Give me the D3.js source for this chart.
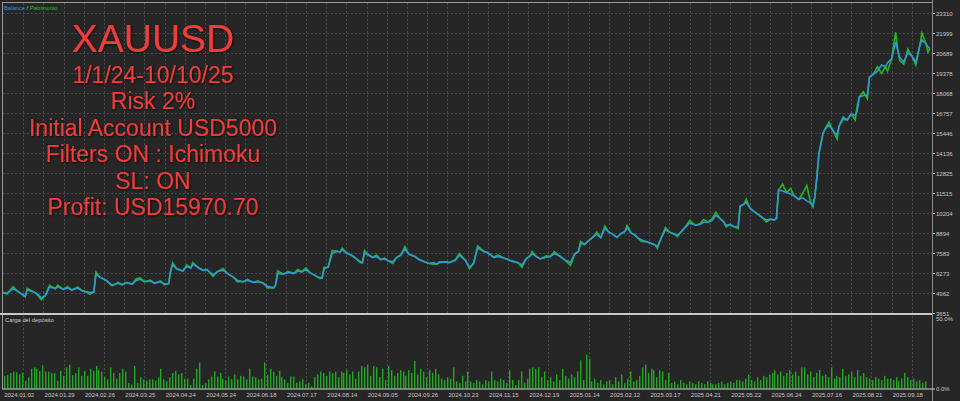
<!DOCTYPE html>
<html>
<head>
<meta charset="utf-8">
<script src="https://cdn.jsdelivr.net/npm/d3@7"></script>
<style>
body{margin:0;background:#262626;}
svg{display:block;}
</style>
</head>
<body>
<div class="container"></div>
<script>
var yTicks = [3651,4962,6273,7583,8894,10204,11515,12825,14136,15446,16757,18068,19378,20689,21999,23310];
var dateIdx = [10,30,50,70,90,110,130,150,170,190,210,230,250,270,290,310,330,350,370,390,410,430,450];
var dateLabels = ["2024.01.02","2024.01.29","2024.02.26","2024.03.25","2024.04.24","2024.05.24","2024.06.18","2024.07.17",
	"2024.08.14","2024.09.05","2024.09.26","2024.10.23","2024.11.15","2024.12.19","2025.01.14","2025.02.12",
	"2025.03.17","2025.04.21","2025.05.22","2025.06.24","2025.07.16","2025.08.21","2025.09.18"];
var loadTicks = [0,50];
var titleLines = ["XAUUSD","1/1/24-10/10/25","Risk 2%","Initial Account USD5000","Filters ON : Ichimoku","SL: ON","Profit: USD15970.70"];

// deal number, balance
var balance = [[0,5000],[2,4950],[5,5230],[7,5100],[11,4750],[12,5160],[15,5050],[17,4900],[19,4640],[21,4800],[23,5350],[26,5250],[27,5380],[30,5200],[32,5300],[34,5150],[37,5290],[39,5120],[41,5050],[43,5000],[45,5020],
	[46,6200],[48,6000],[51,5800],[54,5480],[57,5600],[59,5500],[61,5650],[64,5550],[66,5780],[68,5860],[70,5700],[73,5750],[75,5600],[78,5700],[80,5550],[82,5580],
	[83,6400],[84,6800],[86,6550],[89,6400],[91,6700],[93,6600],[94,6850],[97,6600],[99,6450],[101,6500],[104,6150],[106,6350],[109,6450],[111,6250],[114,6000],[116,5800],[119,5700],[121,5800],[124,5650],[126,5700],[129,5600],[131,5400],[134,5300],[135,5500],
	[136,6250],[139,6200],[141,6300],[144,6250],[146,6400],[148,6350],[150,6500],[152,6300],[154,6150],[157,5950],[158,5950],[159,6550],[161,6650],
	[163,7550],[165,7700],[167,7650],[168,7800],[170,7600],[173,7400],[175,7200],[177,7000],[178,6950],[179,7600],[181,7450],[183,7300],[185,7350],[187,7150],[189,7200],[191,7050],[193,7000],[195,7300],[197,7450],[199,7850],
	[201,7500],[204,7350],[206,7150],[209,7000],[211,6900],[213,6950],[215,6850],[216,6950],[219,7000],[221,6950],[224,7100],[226,7450],[229,7100],[231,6650],[233,6900],
	[235,7900],[238,7700],[240,7600],[243,7300],[245,7350],[248,7250],[250,7150],[252,7050],[255,6950],[257,6800],[259,7200],[261,7400],[262,7550],[264,7350],[266,7200],[269,7300],[271,7350],[273,7550],[276,7350],[278,7150],[281,6950],
	[283,7500],[285,7700],[286,8200],[288,8150],[290,8400],[292,8600],[294,8800],[296,8600],[298,9200],[300,8950],[302,8800],[304,8600],[306,8850],[308,9000],[309,9250],[311,8900],[313,8750],[314,8600],[316,8450],[319,8300],[321,8200],[323,8100],[324,8000],
	[326,8600],[328,9100],[330,8950],[332,8850],[334,8750],[336,9000],[338,9300],[340,9550],[343,9400],[345,9450],[347,9600],[349,9600],[351,9700],[353,10050],[355,9850],[357,9600],[358,9400],[360,9450],[362,9300],[364,9300],
	[365,10650],[367,10800],[368,10900],[370,10500],[372,10300],[374,10100],[376,9900],[378,9750],[380,9800],[382,9750],[383,9900],
	[384,11700],[386,11650],[388,11550],[390,11450],[392,11300],[394,11100],[396,11200],[398,11000],[400,10850],[401,10700],[402,11300],
	[403,12550],[404,14100],[406,15400],[407,15700],[409,15950],[411,15600],[413,15300],[414,15900],[416,16500],[418,16300],[420,16700],[422,16600],[423,16900],
	[424,17800],[426,17900],[428,17950],[429,19100],[431,19300],[433,19500],[435,19900],[437,19800],[438,20050],[440,20300],[442,21400],[443,20900],[444,20400],[446,20100],[447,20400],[448,20700],[450,20500],[452,20100],[453,20600],[454,21200],[455,21550],[457,21300],[458,21100],[459,20971]];

// deal number, equity (patrimonio)
var equity = [[0,5000],[2,4900],[5,5380],[7,5100],[11,4700],[12,5260],[15,5050],[17,4850],[19,4520],[21,4800],[23,5460],[26,5250],[27,5470],[30,5200],[32,5380],[34,5150],[37,5360],[39,5120],[41,5050],[43,4880],[45,5020],
	[46,6330],[48,6000],[51,5800],[54,5430],[57,5650],[59,5500],[61,5650],[64,5550],[66,5900],[68,5960],[70,5700],[73,5800],[75,5600],[78,5750],[80,5500],[82,5580],
	[83,6400],[84,6950],[86,6550],[89,6400],[91,6800],[93,6600],[94,6950],[97,6600],[99,6450],[101,6500],[104,6050],[106,6350],[109,6560],[111,6250],[114,6000],[116,5700],[119,5700],[121,5850],[124,5650],[126,5750],[129,5600],[131,5300],[134,5300],[135,5500],
	[136,6400],[139,6200],[141,6380],[144,6250],[146,6500],[148,6350],[150,6600],[152,6300],[154,6150],[157,5900],[158,5950],[159,6650],[161,6650],
	[163,7750],[165,7700],[167,7650],[168,7900],[170,7600],[173,7400],[175,7200],[177,6950],[178,6950],[179,7750],[181,7450],[183,7300],[185,7450],[187,7150],[189,7250],[191,7050],[193,6900],[195,7300],[197,7450],[199,8000],
	[201,7500],[204,7350],[206,7150],[209,7000],[211,6900],[213,6850],[215,6850],[216,7000],[219,7000],[221,6950],[224,7150],[226,7550],[229,7100],[231,6550],[233,6900],
	[235,8050],[238,7700],[240,7600],[243,7300],[245,7450],[248,7250],[250,7150],[252,7050],[255,6950],[257,6650],[259,7200],[261,7400],[262,7680],[264,7350],[266,7200],[269,7400],[271,7350],[273,7680],[276,7350],[278,7150],[281,6780],
	[283,7500],[285,7700],[286,8350],[288,8150],[290,8400],[292,8600],[294,8950],[296,8600],[298,9350],[300,8950],[302,8800],[304,8600],[306,8850],[308,9000],[309,9380],[311,8900],[313,8750],[314,8600],[316,8350],[319,8300],[321,8200],[323,8100],[324,7880],
	[326,8600],[328,9250],[330,8950],[332,8850],[334,8650],[336,9000],[338,9300],[340,9720],[343,9400],[345,9500],[347,9780],[349,9600],[351,9800],[353,10250],[355,9850],[357,9600],[358,9300],[360,9450],[362,9300],[364,9180],
	[365,10650],[367,10800],[368,11100],[370,10500],[372,10300],[374,10100],[376,9900],[378,9620],[380,9800],[382,9750],[383,9820],
	[384,11700],[386,12100],[388,11550],[390,11800],[392,11300],[394,11100],[396,11500],[398,12000],[400,10850],[401,10600],[402,11300],
	[403,12550],[404,14100],[406,15400],[407,15700],[409,16150],[411,15600],[413,15050],[414,15900],[416,16350],[418,16300],[420,16700],[422,16300],[423,17250],
	[424,17800],[426,18150],[428,17700],[429,19100],[431,19300],[433,19800],[435,19350],[437,19800],[438,19500],[440,20300],[442,22050],[443,20900],[444,20200],[446,19950],[447,20400],[448,20950],[450,20500],[452,19900],[453,20600],[454,21200],[455,22000],[457,21300],[458,20750],[459,20971]];

// carga del deposito, %
var load = [9,9.5,11,12,11.5,10,11,5.5,8,14, 15,14,12.5,16.5,12,12,11,11,5.5,12.5, 9,15,17,9.5,11,15,9,12.5,9,14,
	12.5,16,13,12,8,6.5,15,11,7,11, 14,12,4,3,16,4,8,6.5,5.5,6.5, 6.5,5.5,8,14,6.5,5,8,11,12.5,10,
	11,7,7,2.5,7,14,18.5,2.5,4,6.5, 8.5,12,8.5,11,7,6,8.5,6.5,10,6.5, 9,8.5,6.5,14,8.5,8,6.5,7,18.5,9.5,
	14,12,9,12.5,8,6.5,4,8.5,8.5,4, 5,6.5,3,4,1.5,8,
	10,12,11,9,12, 11,12,8,12,11,13,10, 12,7,12, 16,15,17,9,16,15, 8,14,6,16,13,9, 11,13,12,9,13,11, 19.5,
	10,14,12,8,13,11,14,10, 7,6,8,7, 15, 5,4,9,5,12, 5,4,6,5,3,6,5, 12, 6,5,7,6,4,13,6, 2.5,6,12,4,7,
	14,15,14,15,8,12,6, 8,5,10,6,14,9,7, 10,8,12,20, 6,24,21, 5,7,4,6,3,5, 6,3,8,5,10,4,7,12,5,6,9,
	15,17,11,14, 13,8,13, 12,6,11, 4,5,3,6,4,3,5,4, 3,5,4,3,5,4,3, 3,4,5,3,4,5,4,6, 6,5,7,10,6,5,8,6,
	9,8,10, 11,13,10,12,9,11,13,10,12,9, 15,15, 10,12,8,11,13,9,10, 8,15,7,9,8,14,9,
	10,12,8,13,9,11,8, 7,6,8,7,6,9,7, 7,6,8,5,7,11,8, 6,7,5,6,4,5];

var W = 960, H = 401;
var left = 3, right = 932;
var mainTop = 3, mainBottom = 313;
var subTop = 316, subBottom = 388.5;

var svg = d3.select('.container').append('svg')
	.attr('width', W)
	.attr('height', H);

svg.append('rect').attr('width', W).attr('height', H).attr('fill', '#262626');

var defs = svg.append('defs');
var shadow = defs.append('filter').attr('id', 'shadow')
	.attr('x', '-10%').attr('y', '-20%').attr('width', '120%').attr('height', '140%');
shadow.append('feDropShadow').attr('dx', 0.8).attr('dy', 0.8)
	.attr('stdDeviation', 1.2).attr('flood-color', '#000').attr('flood-opacity', 0.9);

var x = d3.scaleLinear().domain([0, 460]).range([left, right]);
var y = d3.scaleLinear().domain([3651, 23310]).range([mainBottom, 13]);
var yLoad = d3.scaleLinear().domain([0, 50]).range([subBottom, 318]);
var xLoad = d3.scaleLinear().domain([0, load.length]).range([left + 1, right - 4]);

// grid main pane
var gridX = d3.range(0, 461, 10);
svg.append('g').selectAll('line')
	.data(gridX.slice(1, -1)).enter()
	.append('line')
	.attr('x1', function(d){return Math.round(x(d)) + 0.5;})
	.attr('x2', function(d){return Math.round(x(d)) + 0.5;})
	.attr('y1', mainTop).attr('y2', mainBottom)
	.attr('stroke', '#4a4a4a').attr('stroke-dasharray', '2,2');
svg.append('g').selectAll('line')
	.data(yTicks.slice(1)).enter()
	.append('line')
	.attr('x1', left).attr('x2', right)
	.attr('y1', function(d){return Math.round(y(d)) + 0.5;})
	.attr('y2', function(d){return Math.round(y(d)) + 0.5;})
	.attr('stroke', '#4a4a4a').attr('stroke-dasharray', '2,2');

// grid sub pane
svg.append('g').selectAll('line')
	.data(dateIdx).enter()
	.append('line')
	.attr('x1', function(d){return Math.round(x(d)) + 0.5;})
	.attr('x2', function(d){return Math.round(x(d)) + 0.5;})
	.attr('y1', subTop).attr('y2', subBottom)
	.attr('stroke', '#4a4a4a').attr('stroke-dasharray', '2,2');

// title block
svg.append('g').attr('filter', 'url(#shadow)')
	.selectAll('text')
	.data(titleLines).enter()
	.append('text')
	.attr('x', 153)
	.attr('y', function(d, i){return i == 0 ? 52 : 83 + (i - 1) * 26.4;})
	.attr('text-anchor', 'middle')
	.attr('font-family', 'Liberation Sans, Arial, sans-serif')
	.attr('font-size', function(d, i){return i == 0 ? 39 : 23;})
	.attr('fill', '#f23a3a')
	.text(function(d){return d;});

// equity + balance
var line = d3.line()
	.x(function(d){return x(d[0]);})
	.y(function(d){return y(d[1]);});

svg.append('path').datum(equity)
	.attr('d', line)
	.attr('fill', 'none')
	.attr('stroke', '#22b822')
	.attr('stroke-width', 1.6);
svg.append('path').datum(balance)
	.attr('d', line)
	.attr('fill', 'none')
	.attr('stroke', '#2e9ad8')
	.attr('stroke-width', 1.6);

// deposit load bars
svg.append('g').selectAll('rect')
	.data(load).enter()
	.append('rect')
	.attr('x', function(d, i){return Math.round(xLoad(i));})
	.attr('y', function(d){return yLoad(d);})
	.attr('width', 1.4)
	.attr('height', function(d){return subBottom - yLoad(d);})
	.attr('fill', '#22a822');

// frame
svg.append('line').attr('x1', 2.5).attr('x2', 2.5).attr('y1', 2).attr('y2', subBottom)
	.attr('stroke', '#9a9a9a');
svg.append('line').attr('x1', 2).attr('x2', right).attr('y1', 2.5).attr('y2', 2.5)
	.attr('stroke', '#9a9a9a');
svg.append('line').attr('x1', right + 0.5).attr('x2', right + 0.5).attr('y1', 0).attr('y2', H)
	.attr('stroke', '#8a8a8a');
svg.append('line').attr('x1', 0).attr('x2', right).attr('y1', 314).attr('y2', 314)
	.attr('stroke', '#c8c8c8').attr('stroke-width', 2);
svg.append('line').attr('x1', 2).attr('x2', right + 3).attr('y1', subBottom + 0.5).attr('y2', subBottom + 0.5)
	.attr('stroke', '#d0d0d0');

// right axis
var axisFont = 'Liberation Sans, Arial, sans-serif';
var yAxis = svg.append('g').selectAll('g')
	.data(yTicks).enter()
	.append('g')
	.attr('transform', function(d){return 'translate(' + right + ',' + Math.round(y(d)) + ')';});
yAxis.append('line').attr('x1', 1).attr('x2', 3).attr('y1', 0.5).attr('y2', 0.5).attr('stroke', '#c0c0c0');
yAxis.append('text')
	.attr('x', 4).attr('y', 2.5)
	.attr('font-family', axisFont).attr('font-size', 6)
	.attr('fill', '#c8c8c8')
	.text(function(d){return d;});

svg.append('g').selectAll('text')
	.data(loadTicks).enter()
	.append('text')
	.attr('x', right + 4)
	.attr('y', function(d){return d == 0 ? yLoad(d) + 2.5 : yLoad(d) + 3;})
	.attr('font-family', axisFont).attr('font-size', 6)
	.attr('fill', '#c8c8c8')
	.text(function(d){return d.toFixed(1) + '%';});

// date axis
svg.append('g').selectAll('text')
	.data(dateIdx).enter()
	.append('text')
	.attr('x', function(d){return x(d) - 4;})
	.attr('y', 397)
	.attr('text-anchor', 'middle')
	.attr('font-family', axisFont).attr('font-size', 6)
	.attr('fill', '#c8c8c8')
	.text(function(d, i){return dateLabels[i];});

// legends
var leg = svg.append('text').attr('x', 4).attr('y', 9.5)
	.attr('font-family', axisFont).attr('font-size', 5.8);
leg.append('tspan').attr('fill', '#3d8fe0').text('Balance');
leg.append('tspan').attr('fill', '#d0d0d0').text(' / ');
leg.append('tspan').attr('fill', '#2cc02c').text('Patrimonio');

svg.append('text').attr('x', 5).attr('y', 322)
	.attr('font-family', axisFont).attr('font-size', 5.8)
	.attr('fill', '#d0d0d0')
	.text('Carga del depósito');
</script>
</body>
</html>
